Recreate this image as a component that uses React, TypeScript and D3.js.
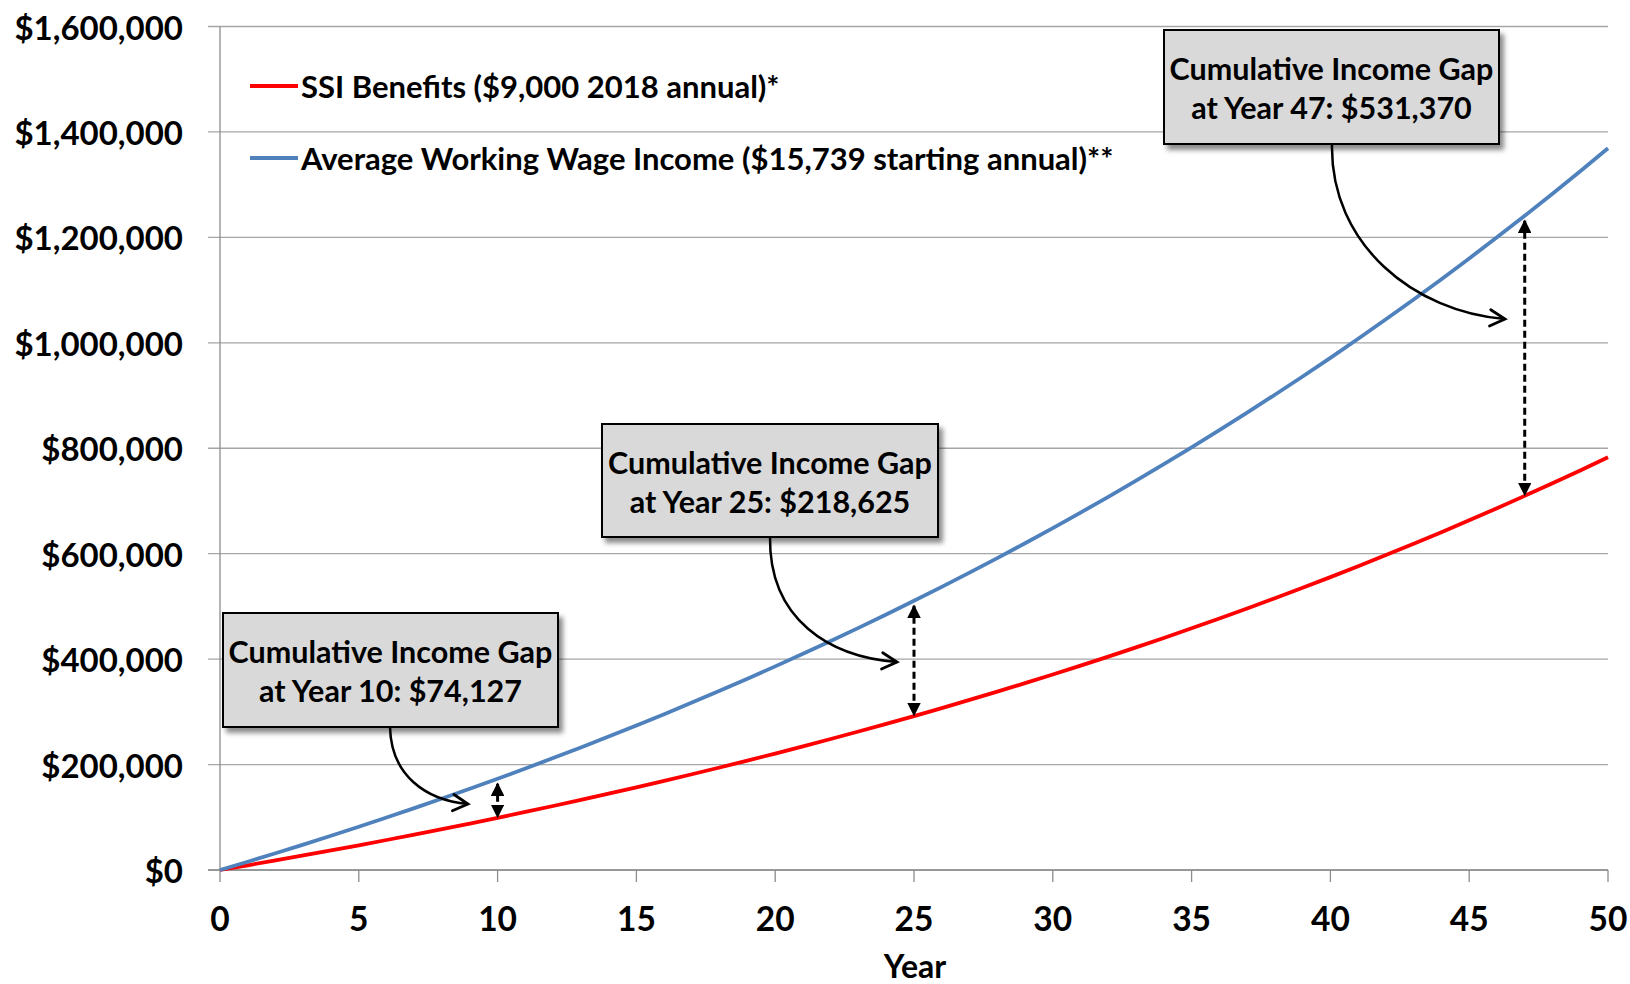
import React from "react";
import * as d3 from "d3";

const YEARS = d3.range(0, 51);
const SSI_BENEFITS = [
  0, 9000, 18189, 27571, 37150, 46930, 56916, 67111, 77520, 88148, 98999,
  110078, 121390, 132939, 144731, 156770, 169062, 181613, 194427, 207510, 220867,
  234506, 248430, 262647, 277163, 291984, 307115, 322565, 338339, 354444, 370887,
  387676, 404817, 422318, 440187, 458431, 477058, 496076, 515494, 535319, 555561,
  576228, 597328, 618872, 640869, 663327, 686257, 709668, 733572, 757977, 782894,
];
const WAGE_INCOME = [
  0, 15739, 31809, 48215, 64967, 82071, 99533, 117362, 135565, 154152, 173127,
  192502, 212284, 232481, 253102, 274156, 295653, 317600, 340009, 362888, 386248,
  410098, 434450, 459312, 484697, 510614, 537076, 564094, 591679, 619844, 648600,
  677959, 707935, 738541, 769789, 801694, 834268, 867527, 901484, 936154, 971553,
  1007694, 1044594, 1082270, 1120737, 1160012, 1200111, 1241052, 1282854, 1325533, 1369108,
];
const SERIES_NAMES = [
  "SSI Benefits ($9,000 2018 annual)*",
  "Average Working Wage Income ($15,739 starting annual)**",
];
const SERIES_COLORS = ["#ff0000", "#4f81bd"];
const Y_TICKS = [0, 200000, 400000, 600000, 800000, 1000000, 1200000, 1400000, 1600000];
const X_TICKS = [0, 5, 10, 15, 20, 25, 30, 35, 40, 45, 50];
const GAP_YEARS = [10, 25, 47];
const GAP_LABELS = ["$74,127", "$218,625", "$531,370"];

const W = 1630;
const H = 984;
const FONT = "Lato, 'Open Sans', sans-serif";

// annotation box layout and curved arrow [start, c1, c2, end]
const BOXES = [
  { x: 223, y: 613, w: 335, h: 114, arrow: [[390, 727], [391, 775], [425, 800], [468, 804]] },
  { x: 602, y: 424, w: 336, h: 113, arrow: [[770, 537], [769, 620], [830, 657], [897, 662]] },
  { x: 1164, y: 30, w: 335, h: 114, arrow: [[1332, 144], [1330, 245], [1415, 312], [1505, 319]] },
];

export default function App() {
  const x = d3.scaleLinear().domain([0, 50]).range([220, 1608]);
  const y = d3.scaleLinear().domain([0, 1600000]).range([870, 26.5]);
  const fmt = (v: number) => "$" + d3.format(",")(v);

  const line = d3
    .line<number>()
    .x((_, i) => x(YEARS[i]))
    .y((d) => y(d));

  const series = [SSI_BENEFITS, WAGE_INCOME];

  return (
    <svg
      width={W}
      height={H}
      style={{ position: "absolute", left: 0, top: 0, background: "#fff" }}
      fontFamily={FONT}
    >
      <defs>
        <filter id="shadow" x="-10%" y="-10%" width="130%" height="140%">
          <feDropShadow dx="4" dy="5" stdDeviation="2.5" floodColor="#000" floodOpacity="0.45" />
        </filter>
        <marker id="tri" viewBox="0 0 10 10" refX="9" refY="5" markerWidth="4.5" markerHeight="4.5" orient="auto-start-reverse">
          <path d="M0,0 L10,5 L0,10 Z" fill="#000" />
        </marker>
      </defs>

      {/* gridlines */}
      {Y_TICKS.map((t) => (
        <line key={"g" + t} x1={208} x2={1608} y1={y(t)} y2={y(t)} stroke="#a6a6a6" strokeWidth={1.3} />
      ))}
      {/* y axis */}
      <line x1={220} x2={220} y1={y(1600000)} y2={870} stroke="#8c8c8c" strokeWidth={1.3} />
      {/* x axis */}
      <line x1={208} x2={1608} y1={870} y2={870} stroke="#8c8c8c" strokeWidth={1.3} />
      {X_TICKS.map((t) => (
        <line key={"xt" + t} x1={x(t)} x2={x(t)} y1={870} y2={882} stroke="#8c8c8c" strokeWidth={1.3} />
      ))}

      {/* y tick labels */}
      {Y_TICKS.map((t) => (
        <text key={"yl" + t} x={183} y={y(t)} textAnchor="end" dominantBaseline="central" fontSize={33} fontWeight={700} fill="#000">
          {fmt(t)}
        </text>
      ))}
      {/* x tick labels */}
      {X_TICKS.map((t) => (
        <text key={"xl" + t} x={x(t)} y={918} textAnchor="middle" dominantBaseline="central" fontSize={33.5} fontWeight={700} fill="#000">
          {t}
        </text>
      ))}
      <text x={915} y={978} textAnchor="middle" fontSize={32} fontWeight={700} fill="#000">
        Year
      </text>

      {/* series lines */}
      {series.map((s, i) => (
        <path key={"s" + i} d={line(s) || ""} fill="none" stroke={SERIES_COLORS[i]} strokeWidth={3.8} strokeLinejoin="round" />
      ))}

      {/* legend */}
      {SERIES_NAMES.map((n, i) => (
        <g key={"lg" + i} transform={`translate(0, ${86 + i * 72})`}>
          <line x1={250} x2={298} y1={0} y2={0} stroke={SERIES_COLORS[i]} strokeWidth={3.8} />
          <text x={301} y={0} dominantBaseline="central" fontSize={31} fontWeight={700} fill="#000">
            {n}
          </text>
        </g>
      ))}

      {/* dashed gap arrows */}
      {GAP_YEARS.map((yr, i) => (
        <line
          key={"ga" + i}
          x1={x(yr)}
          x2={x(yr)}
          y1={y(WAGE_INCOME[yr]) + 5}
          y2={y(SSI_BENEFITS[yr]) - 1}
          stroke="#000"
          strokeWidth={3}
          strokeDasharray="7,4"
          markerStart="url(#tri)"
          markerEnd="url(#tri)"
        />
      ))}

      {/* annotation boxes + curved arrows */}
      {BOXES.map((b, i) => {
        const [p0, c1, c2, p1] = b.arrow;
        const ang = Math.atan2(p1[1] - c2[1], p1[0] - c2[0]);
        const len = 17;
        const spread = 0.5;
        const a1 = [p1[0] - len * Math.cos(ang - spread), p1[1] - len * Math.sin(ang - spread)];
        const a2 = [p1[0] - len * Math.cos(ang + spread), p1[1] - len * Math.sin(ang + spread)];
        return (
          <g key={"b" + i}>
            <path
              d={`M${p0[0]},${p0[1]} C${c1[0]},${c1[1]} ${c2[0]},${c2[1]} ${p1[0]},${p1[1]}`}
              fill="none"
              stroke="#000"
              strokeWidth={2.5}
            />
            <path
              d={`M${a1[0]},${a1[1]} L${p1[0]},${p1[1]} L${a2[0]},${a2[1]}`}
              fill="none"
              stroke="#000"
              strokeWidth={2.8}
              strokeLinecap="round"
              strokeLinejoin="miter"
            />
            <rect x={b.x} y={b.y} width={b.w} height={b.h} fill="#d9d9d9" stroke="#000" strokeWidth={2} filter="url(#shadow)" />
            <text x={b.x + b.w / 2} y={b.y + 38} textAnchor="middle" dominantBaseline="central" fontSize={30.5} fontWeight={700} fill="#000">
              Cumulative Income Gap
            </text>
            <text x={b.x + b.w / 2} y={b.y + 77} textAnchor="middle" dominantBaseline="central" fontSize={30.5} fontWeight={700} fill="#000">
              {`at Year ${GAP_YEARS[i]}: ${GAP_LABELS[i]}`}
            </text>
          </g>
        );
      })}
    </svg>
  );
}
